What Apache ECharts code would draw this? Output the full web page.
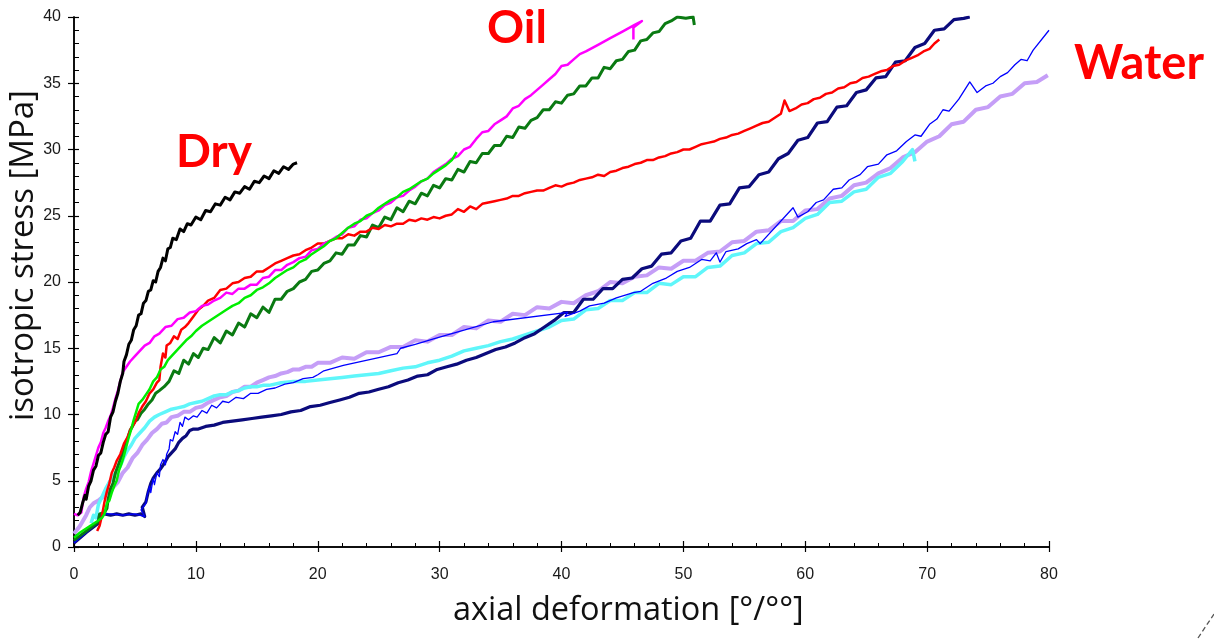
<!DOCTYPE html>
<html>
<head>
<meta charset="utf-8">
<script src="https://cdn.jsdelivr.net/npm/echarts@6/dist/echarts.min.js"></script>
<style>
  html, body { margin: 0; padding: 0; background: #fff; }
  #chart { width: 1214px; height: 639px; }
</style>
</head>
<body>
<div id="chart"></div>
<script>
// Isotropic loading curves: axial deformation [°/°°] vs isotropic stress [MPa]
const xTicks = [0, 10, 20, 30, 40, 50, 60, 70, 80];
const yTicks = [0, 5, 10, 15, 20, 25, 30, 35, 40];

// Dry sample
const dryBlack = [[0.3,2.4],[0.5,2.6],[0.7,3.3],[0.9,3.9],[1.0,3.6],[1.2,4.6],[1.4,5.0],[1.6,5.8],[1.8,6.1],[2.0,6.9],[2.2,7.1],[2.4,7.9],[2.6,8.5],[2.8,8.7],[3.0,9.8],[3.2,10.2],[3.4,11.0],[3.6,11.6],[3.8,12.5],[4.0,13.1],[4.1,14.0],[4.3,14.5],[4.5,15.3],[4.7,15.6],[4.9,16.4],[5.1,16.7],[5.3,17.5],[5.5,17.6],[5.7,18.4],[5.9,18.6],[6.1,19.3],[6.3,19.4],[6.5,20.1],[6.7,20.0],[6.9,20.8],[7.1,21.1],[7.3,21.8],[7.5,21.6],[7.7,22.5],[7.9,22.6],[8.1,23.3],[8.4,23.2],[8.7,24.0],[9.0,23.8],[9.3,24.4],[9.6,24.3],[10.0,24.9],[10.4,24.7],[10.8,25.4],[11.2,25.3],[11.6,25.9],[12.0,25.8],[12.4,26.4],[12.8,26.2],[13.2,26.8],[13.6,26.7],[14.0,27.2],[14.4,27.0],[14.8,27.6],[15.2,27.5],[15.6,28.0],[16.0,27.8],[16.4,28.4],[16.8,28.2],[17.2,28.7],[17.6,28.5],[18.0,28.9],[18.3,29.0]];

// Oil-saturated samples
const oilMagenta = [[0,2.5],[0.3,2.4],[0.6,2.6],[0.7,3.2],[0.8,3.8],[1.0,4.4],[1.2,4.9],[1.4,5.7],[1.6,6.3],[1.8,6.9],[2.0,7.5],[2.2,7.9],[2.4,8.6],[2.6,9.0],[2.8,9.5],[3.0,9.9],[3.2,10.5],[3.4,11.2],[3.6,11.8],[3.8,12.5],[4.0,13.2],[4.3,13.6],[4.6,14.0],[5.0,14.4],[5.4,14.8],[5.8,15.2],[6.2,15.4],[6.6,15.9],[7.0,16.1],[7.5,16.6],[8.0,16.7],[8.5,17.2],[9.0,17.3],[9.5,17.7],[10.0,17.8],[10.5,18.2],[11.0,18.3],[11.5,18.6],[12.0,18.8],[12.5,19.2],[13.0,19.1],[13.5,19.5],[14.0,19.5],[14.5,19.8],[15.0,19.8],[15.5,20.3],[16.0,20.4],[16.5,20.9],[17.0,20.9],[17.5,21.3],[18.0,21.5],[18.5,21.8],[19.0,21.9],[19.5,22.4],[20.0,22.5],[20.5,22.9],[21.0,23.1],[21.5,23.4],[22.0,23.6],[22.5,24.1],[23.0,24.2],[23.5,24.7],[24.0,24.8],[24.5,25.2],[25.0,25.4],[25.5,25.8],[26.0,26.0],[26.5,26.4],[27.0,26.5],[27.5,26.9],[28.0,27.2],[28.5,27.6],[29.0,27.8],[29.5,28.3],[30.0,28.6],[30.5,28.9],[31.0,29.3],[31.5,29.5],[32.0,30.0],[32.5,30.2],[33.0,30.8],[33.5,31.3],[34.0,31.4],[34.5,31.9],[35.0,32.2],[35.5,32.5],[36.0,33.1],[36.5,33.3],[37.0,33.8],[37.5,34.1],[38.0,34.5],[38.5,34.9],[39.0,35.3],[39.5,35.7],[40.0,36.3],[40.5,36.4],[41.0,36.8],[41.5,37.2],[42.0,37.4],[43.0,37.9],[44.0,38.4],[45.0,38.9],[46.0,39.4],[46.6,39.7],[45.9,39.2],[45.9,38.3]];

const oilRed = [[1.9,1.2],[2.1,1.6],[2.3,2.4],[2.5,3.4],[2.7,4.2],[2.9,4.8],[3.1,5.6],[3.3,6.0],[3.5,6.5],[3.8,7.0],[4.1,7.8],[4.4,8.3],[4.7,9.0],[5.0,9.4],[5.3,10.1],[5.6,10.6],[5.9,11.0],[6.2,11.6],[6.5,11.9],[6.8,12.4],[7.0,12.6],[7.1,13.6],[7.3,14.6],[7.5,14.3],[7.6,15.2],[7.9,15.4],[8.2,15.9],[8.5,15.7],[8.8,16.4],[9.1,16.6],[9.4,16.9],[9.8,17.4],[10.2,17.9],[10.6,18.2],[11.0,18.6],[11.5,18.8],[12.0,19.4],[12.5,19.5],[13.0,19.9],[13.5,20.0],[14.0,20.3],[14.5,20.4],[15.0,20.8],[15.5,20.8],[16.0,21.1],[16.5,21.4],[17.0,21.6],[17.5,21.8],[18.0,22.0],[18.5,22.1],[19.0,22.4],[19.5,22.6],[20.0,22.9],[20.5,22.9],[21.0,23.1],[21.5,23.3],[22.0,23.3],[22.5,23.6],[23.0,23.5],[23.5,23.8],[24.0,23.8],[24.5,24.1],[25.0,24.0],[25.5,24.3],[26.0,24.2],[26.5,24.4],[27.0,24.4],[27.5,24.7],[28.0,24.6],[28.5,24.8],[29.0,24.7],[29.5,24.9],[30.0,24.8],[30.5,25.0],[31.0,25.1],[31.5,25.5],[32.0,25.3],[32.5,25.7],[33.0,25.5],[33.5,25.9],[34.0,26.0],[34.5,26.1],[35.0,26.2],[35.5,26.3],[36.0,26.5],[36.5,26.5],[37.0,26.7],[37.5,26.8],[38.0,26.9],[38.5,26.9],[39.0,27.1],[39.5,27.3],[40.0,27.2],[40.5,27.4],[41.0,27.5],[41.5,27.7],[42.0,27.8],[42.5,27.9],[43.0,28.1],[43.5,28.0],[44.0,28.3],[44.5,28.4],[45.0,28.6],[45.5,28.7],[46.0,28.9],[46.5,29.0],[47.0,29.2],[47.5,29.2],[48.0,29.4],[48.5,29.5],[49.0,29.7],[49.5,29.8],[50.0,30.0],[50.5,30.0],[51.0,30.2],[51.5,30.4],[52.0,30.5],[52.5,30.6],[53.0,30.8],[53.5,30.9],[54.0,31.1],[54.5,31.2],[55.0,31.4],[55.5,31.6],[56.0,31.8],[56.5,32.0],[57.0,32.1],[57.5,32.4],[58.0,32.7],[58.3,33.7],[58.7,32.9],[59.2,33.1],[59.7,33.4],[60.2,33.5],[60.7,33.8],[61.2,33.9],[61.7,34.2],[62.2,34.3],[62.7,34.6],[63.2,34.7],[63.7,35.0],[64.2,35.1],[64.7,35.4],[65.2,35.5],[65.7,35.7],[66.2,35.9],[66.7,36.0],[67.2,36.3],[67.7,36.4],[68.2,36.7],[68.7,36.9],[69.2,37.1],[69.7,37.4],[70.2,37.6],[70.6,38.0],[71.0,38.3]];

const oilLime = [[0,0.7],[0.5,1.1],[1.0,1.4],[1.5,1.7],[2.0,2.0],[2.3,2.2],[2.5,2.5],[2.7,3.3],[2.9,3.5],[3.1,4.1],[3.3,4.6],[3.5,5.0],[3.7,5.8],[3.9,6.3],[4.1,6.9],[4.3,7.6],[4.5,8.3],[4.7,8.9],[4.9,9.6],[5.1,10.2],[5.3,10.8],[5.6,11.1],[5.9,11.5],[6.2,11.9],[6.5,12.5],[6.8,12.8],[7.1,13.4],[7.4,13.6],[7.7,14.1],[8.0,14.4],[8.4,14.8],[8.8,15.2],[9.2,15.6],[9.6,15.9],[10.0,16.3],[10.5,16.7],[11.0,17.0],[11.5,17.3],[12.0,17.6],[12.5,17.9],[13.0,18.2],[13.5,18.4],[14.0,18.8],[14.5,19.0],[15.0,19.4],[15.5,19.6],[16.0,19.9],[16.5,20.3],[17.0,20.6],[17.5,20.9],[18.0,21.1],[18.5,21.5],[19.0,21.7],[19.5,22.1],[20.0,22.4],[20.5,22.7],[21.0,23.1],[21.5,23.3],[22.0,23.7],[22.5,24.1],[23.0,24.4],[23.5,24.6],[24.0,25.0],[24.5,25.2],[25.0,25.6],[25.5,25.9],[26.0,26.2],[26.5,26.4],[27.0,26.8],[27.5,27.0],[28.0,27.3],[28.5,27.6],[29.0,27.8],[29.5,28.2],[30.0,28.5],[30.5,28.8],[31.0,29.2],[31.4,29.8]];

const oilDarkGreen = [[0,0.5],[1.0,1.2],[2.0,1.9],[2.1,2.5],[2.5,2.6],[2.7,2.9],[2.8,3.6],[3.0,4.4],[3.2,4.8],[3.4,5.6],[3.6,6.1],[3.8,6.6],[4.0,7.1],[4.2,7.8],[4.4,8.2],[4.6,8.8],[4.8,9.1],[5.0,9.5],[5.2,9.6],[5.5,10.1],[5.8,10.4],[6.1,10.8],[6.4,11.1],[6.7,11.6],[7.0,11.8],[7.4,12.1],[7.8,12.5],[8.2,13.3],[8.6,13.1],[9.0,14.1],[9.4,13.8],[9.8,14.6],[10.2,14.3],[10.6,15.0],[11.0,14.9],[11.5,15.8],[12.0,15.4],[12.5,16.3],[13.0,16.0],[13.5,16.9],[14.0,16.6],[14.5,17.6],[15.0,17.3],[15.5,18.1],[16.0,17.7],[16.5,18.7],[17.0,18.7],[17.5,19.3],[18.0,19.5],[18.5,20.0],[19.0,20.2],[19.5,20.8],[20.0,20.9],[20.5,21.4],[21.0,21.6],[21.5,22.2],[22.0,22.1],[22.5,22.8],[23.0,22.8],[23.5,23.5],[24.0,23.4],[24.5,24.3],[25.0,24.1],[25.5,24.9],[26.0,24.7],[26.5,25.6],[27.0,25.3],[27.5,26.1],[28.0,25.9],[28.5,26.7],[29.0,26.5],[29.5,27.3],[30.0,27.1],[30.5,27.8],[31.0,27.7],[31.5,28.5],[32.0,28.3],[32.5,29.1],[33.0,29.0],[33.5,29.7],[34.0,29.7],[34.5,30.3],[35.0,30.3],[35.5,31.0],[36.0,30.9],[36.5,31.7],[37.0,31.6],[37.5,32.2],[38.0,32.4],[38.5,33.0],[39.0,33.0],[39.5,33.6],[40.0,33.5],[40.5,34.1],[41.0,34.2],[41.5,34.8],[42.0,34.8],[42.5,35.4],[43.0,35.4],[43.5,36.2],[44.0,36.1],[44.5,36.7],[45.0,36.8],[45.5,37.4],[46.0,37.5],[46.5,38.2],[47.0,38.3],[47.5,38.8],[48.0,38.9],[48.5,39.5],[49.0,39.7],[49.5,40.0],[50.2,39.9],[50.8,40.0],[50.9,39.4]];

// Water-saturated samples
const waterNavy = [[0,0.3],[1.0,1.1],[2.0,1.8],[2.1,2.4],[2.5,2.5],[3.0,2.4],[3.5,2.5],[4.0,2.4],[4.5,2.5],[5.0,2.4],[5.5,2.5],[5.8,2.3],[5.6,3.0],[5.9,3.4],[6.1,4.2],[6.3,4.8],[6.5,5.2],[6.8,5.6],[7.1,5.9],[7.4,6.3],[7.7,6.8],[8.0,7.1],[8.3,7.4],[8.6,7.9],[8.9,8.2],[9.2,8.4],[9.5,8.8],[9.8,8.9],[10.2,8.9],[10.8,9.1],[11.5,9.2],[12.2,9.4],[13.0,9.5],[13.8,9.6],[14.6,9.7],[15.4,9.8],[16.2,9.9],[17.0,10.0],[17.8,10.2],[18.6,10.3],[19.4,10.6],[20.2,10.7],[21.0,10.9],[21.8,11.1],[22.6,11.3],[23.4,11.6],[24.2,11.7],[25.0,11.9],[25.8,12.1],[26.6,12.4],[27.4,12.6],[28.2,12.9],[29.0,13.0],[29.8,13.4],[30.6,13.6],[31.4,13.8],[32.2,14.1],[33.0,14.3],[33.8,14.6],[34.6,14.9],[35.4,15.1],[36.2,15.4],[37.0,15.8],[37.8,16.1],[38.6,16.6],[39.4,17.1],[40.2,17.7],[41.0,17.7],[41.8,18.7],[42.6,18.7],[43.4,19.5],[44.2,19.5],[45.0,20.2],[45.8,20.3],[46.6,21.0],[47.4,21.2],[48.2,22.1],[49.0,22.2],[49.8,23.1],[50.6,23.3],[51.4,24.6],[52.2,24.6],[53.0,25.8],[53.8,25.9],[54.6,27.1],[55.4,27.2],[56.2,28.1],[57.0,28.3],[57.8,29.3],[58.6,29.7],[59.4,30.7],[60.2,30.9],[61.0,32.0],[61.8,32.1],[62.6,33.2],[63.4,33.3],[64.2,34.3],[65.0,34.5],[65.8,35.4],[66.6,35.5],[67.4,36.6],[68.2,36.7],[69.0,37.7],[69.8,38.0],[70.6,39.0],[71.4,39.1],[72.2,39.8],[73.0,39.9],[73.5,40.0]];

const waterBlue = [[0,0.3],[1.0,1.1],[2.0,1.9],[2.1,2.5],[3.0,2.5],[4.0,2.4],[5.0,2.5],[5.8,2.3],[5.5,2.8],[5.9,3.3],[6.0,3.9],[6.2,4.6],[6.3,4.1],[6.5,5.2],[6.6,4.7],[6.8,5.6],[7.0,5.3],[7.1,6.2],[7.3,6.6],[7.5,6.2],[7.6,7.0],[7.8,7.4],[7.9,8.1],[8.1,8.0],[8.3,8.7],[8.5,8.5],[8.7,9.4],[8.9,9.1],[9.1,9.8],[9.4,9.6],[9.8,9.9],[10.1,9.8],[10.5,10.3],[10.9,10.1],[11.3,10.7],[11.7,10.5],[12.2,11.0],[12.7,10.9],[13.3,11.3],[13.9,11.2],[14.5,11.6],[15.1,11.6],[15.8,11.9],[16.5,12.0],[17.3,12.3],[18.0,12.4],[18.8,12.7],[19.6,12.8],[20.0,13.0],[20.5,13.3],[22.1,13.7],[26.5,14.6],[26.8,15.0],[28.0,15.3],[29.5,15.7],[31.0,16.1],[32.5,16.5],[34.4,17.0],[40.5,17.7],[40.3,17.4],[41.5,17.8],[42.3,18.2],[43.5,18.4],[44.5,18.8],[45.9,19.2],[46.5,19.3],[47.5,19.9],[48.6,20.3],[49.5,20.8],[50.5,21.1],[51.5,21.7],[52.2,21.6],[52.7,22.2],[53.0,21.5],[53.5,22.3],[54.5,22.5],[55.2,22.9],[56.0,23.2],[56.3,22.9],[59.0,25.6],[59.4,24.9],[60.2,25.3],[60.9,26.0],[61.5,26.2],[62.3,27.0],[63.0,27.1],[63.6,27.7],[64.5,28.1],[65.1,28.7],[66.0,28.9],[66.7,29.6],[67.5,29.9],[68.3,30.6],[69.0,31.1],[69.5,31.0],[70.2,31.9],[70.8,32.3],[71.3,33.0],[71.8,32.9],[72.6,33.8],[73.5,35.1],[74.1,34.3],[74.8,34.8],[75.4,35.0],[76.0,35.5],[76.6,35.8],[77.2,36.4],[77.7,36.8],[78.2,36.7],[78.7,37.5],[80.0,39.0]];

const waterLavender = [[0,1.0],[0.5,1.6],[1.0,2.4],[1.3,3.0],[1.6,3.3],[2.0,3.5],[2.4,3.8],[2.8,4.2],[3.2,4.5],[3.6,4.9],[4.0,5.6],[4.4,6.0],[4.8,6.7],[5.2,7.1],[5.6,7.7],[6.0,8.1],[6.4,8.6],[6.8,8.9],[7.2,9.3],[7.6,9.4],[8.0,9.8],[8.5,9.9],[9.0,10.2],[9.5,10.2],[10.0,10.5],[10.5,10.6],[11.0,10.9],[11.5,11.1],[12.0,11.3],[12.5,11.4],[13.0,11.7],[13.5,11.8],[14.0,12.1],[14.5,12.1],[15.0,12.4],[15.5,12.6],[16.0,12.8],[16.5,12.9],[17.0,13.1],[17.5,13.2],[18.0,13.4],[18.5,13.4],[19.0,13.6],[19.5,13.6],[20.0,13.9],[21.0,13.9],[22.0,14.3],[23.0,14.2],[24.0,14.7],[25.0,14.7],[26.0,15.1],[27.0,15.1],[28.0,15.6],[29.0,15.5],[30.0,16.0],[31.0,16.0],[32.0,16.6],[33.0,16.5],[34.0,17.1],[35.0,17.0],[36.0,17.6],[37.0,17.5],[38.0,18.1],[39.0,18.0],[40.0,18.5],[41.0,18.4],[42.0,19.0],[43.0,19.3],[44.0,20.0],[45.0,19.9],[46.0,20.4],[47.0,20.5],[48.0,21.1],[49.0,21.0],[50.0,21.6],[51.0,21.6],[52.0,22.2],[53.0,22.3],[54.0,23.0],[55.0,23.1],[56.0,23.8],[57.0,23.9],[58.0,24.6],[59.0,24.6],[60.0,25.4],[61.0,25.5],[62.0,26.3],[63.0,26.5],[64.0,27.3],[65.0,27.5],[66.0,28.2],[67.0,28.6],[68.0,29.4],[69.0,29.8],[70.0,30.6],[71.0,31.0],[72.0,31.9],[73.0,32.1],[74.0,33.0],[75.0,33.2],[76.0,34.0],[77.0,34.2],[78.0,35.0],[79.0,35.1],[79.9,35.6]];

const waterCyan = [[1.4,1.8],[1.6,2.4],[1.8,2.2],[2.0,3.2],[2.3,3.8],[2.6,4.4],[2.9,4.9],[3.2,5.3],[3.5,5.7],[3.8,6.1],[4.1,6.8],[4.4,7.3],[4.7,7.7],[5.0,8.2],[5.4,8.6],[5.8,9.0],[6.2,9.5],[6.6,9.8],[7.0,10.0],[7.5,10.2],[8.0,10.4],[8.5,10.5],[9.0,10.6],[9.5,10.8],[10.0,10.9],[10.5,11.0],[11.0,11.2],[11.5,11.4],[12.0,11.5],[12.5,11.5],[13.0,11.7],[13.5,11.8],[14.0,12.0],[14.5,12.1],[15.0,12.1],[15.5,12.2],[16.0,12.2],[17.0,12.4],[18.0,12.5],[19.0,12.5],[20.0,12.6],[21.0,12.7],[22.0,12.8],[23.0,12.9],[24.0,13.0],[25.0,13.1],[26.0,13.3],[27.0,13.5],[28.0,13.6],[29.0,13.9],[30.0,14.1],[31.0,14.4],[32.0,14.8],[33.0,15.0],[34.0,15.2],[35.0,15.5],[36.0,15.7],[37.0,16.0],[38.0,16.3],[39.0,16.6],[40.0,17.1],[41.0,17.2],[42.0,17.9],[43.0,18.0],[44.0,18.6],[45.0,18.6],[46.0,19.2],[47.0,19.2],[48.0,19.9],[49.0,19.8],[50.0,20.4],[51.0,20.4],[52.0,21.1],[53.0,21.2],[54.0,22.0],[55.0,22.2],[56.0,22.9],[57.0,23.0],[58.0,23.8],[59.0,24.1],[60.0,24.8],[61.0,25.1],[62.0,26.0],[63.0,26.1],[64.0,26.8],[65.0,27.0],[66.0,27.9],[67.0,28.2],[68.0,29.1],[68.8,30.0],[69.0,29.1]];

const groupLabels = ['Dry', 'Oil', 'Water'];

const chart = echarts.init(document.getElementById('chart'), null, { renderer: 'canvas' });

const tickFont = { fontFamily: 'Liberation Sans', fontSize: 16, color: '#1a1a1a' };
const axisLine = { show: true, lineStyle: { color: '#000', width: 1.5 } };

function curve(name, data, color, width) {
  return {
    name, type: 'line', data,
    xAxisIndex: 0, yAxisIndex: 0,
    showSymbol: false, symbol: 'none',
    lineStyle: { color, width, join: 'round' },
    z: 3
  };
}

chart.setOption({
  animation: false,
  backgroundColor: '#fff',
  grid: { left: 74, right: 165, top: 17, bottom: 92, containLabel: false },
  xAxis: [
    {
      type: 'value', min: xTicks[0], max: xTicks[xTicks.length - 1], interval: 10,
      position: 'bottom',
      axisLine,
      axisTick: { show: true, inside: false, length: 5, lineStyle: { color: '#000', width: 1.2 } },
      axisLabel: { ...tickFont, margin: 20 },
      splitLine: { show: false }
    },
    {
      type: 'value', min: xTicks[0], max: xTicks[xTicks.length - 1], interval: 10,
      position: 'bottom',
      axisLine,
      axisTick: { show: true, inside: true, length: 6, lineStyle: { color: '#000', width: 1.2 } },
      minorTick: { show: true, splitNumber: 5, length: 4, lineStyle: { color: '#000', width: 1 } },
      axisLabel: { show: false },
      splitLine: { show: false }
    }
  ],
  yAxis: [
    {
      type: 'value', min: yTicks[0], max: yTicks[yTicks.length - 1], interval: 5,
      position: 'left',
      axisLine,
      axisTick: { show: true, inside: false, length: 6, lineStyle: { color: '#000', width: 1.2 } },
      axisLabel: { ...tickFont, margin: 13 },
      splitLine: { show: false }
    },
    {
      type: 'value', min: yTicks[0], max: yTicks[yTicks.length - 1], interval: 5,
      position: 'left',
      axisLine,
      axisTick: { show: true, inside: true, length: 5, lineStyle: { color: '#000', width: 1.2 } },
      minorTick: { show: true, splitNumber: 5, length: 5, lineStyle: { color: '#000', width: 1 } },
      axisLabel: { show: false },
      splitLine: { show: false }
    }
  ],
  series: [
    curve('Water lavender', waterLavender, '#c59ef7', 4),
    curve('Water cyan', waterCyan, '#5ff6fa', 3.5),
    curve('Water navy', waterNavy, '#0b0b7c', 3.2),
    curve('Water blue', waterBlue, '#0000ff', 1.3),
    curve('Oil dark green', oilDarkGreen, '#0a7a12', 3),
    curve('Oil red', oilRed, '#ff0000', 2.5),
    curve('Oil magenta', oilMagenta, '#ff00ff', 2.5),
    curve('Oil lime', oilLime, '#00ee00', 2.5),
    curve('Dry black', dryBlack, '#000000', 3)
  ],
  graphic: [
    { type: 'text', left: 453, top: 594,
      style: { text: 'axial deformation [°/°°]', font: '32.5px "Open Sans"', fill: '#111' } },
    { type: 'text', x: 7, y: 421, rotation: Math.PI / 2,
      style: { text: 'isotropic stress [MPa]', font: '33px "Open Sans"', fill: '#111' } },
    { type: 'text', left: 176, top: 129,
      style: { text: groupLabels[0], font: 'bold 46px Lato', fill: '#ff0000' } },
    { type: 'text', left: 487, top: 5,
      style: { text: groupLabels[1], font: 'bold 46px Lato', fill: '#ff0000' } },
    { type: 'text', left: 1074, top: 40,
      style: { text: groupLabels[2], font: 'bold 47px Lato', fill: '#ff0000' } },
    { type: 'line', shape: { x1: 1198, y1: 638, x2: 1214, y2: 614 },
      style: { stroke: '#555', lineWidth: 1.3, lineDash: [5, 3] } }
  ]
});
</script>
</body>
</html>
